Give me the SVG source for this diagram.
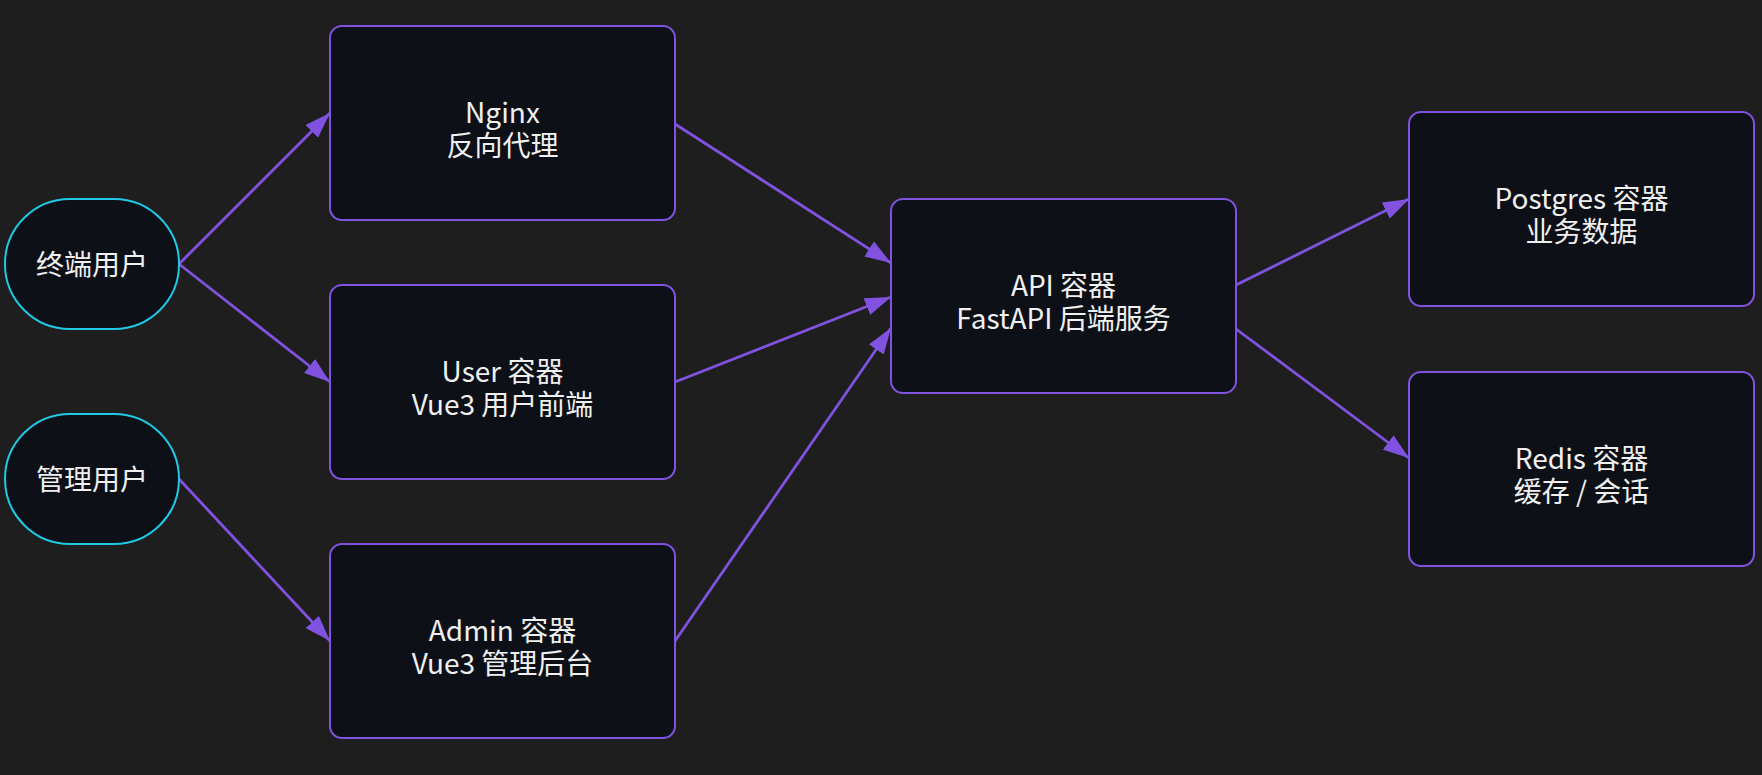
<svg xmlns="http://www.w3.org/2000/svg" width="1762" height="775" viewBox="0 0 1762 775">
<style>
  .box { fill: #0d1017; stroke: #8152e0; stroke-width: 2; }
  .actor { fill: #0d1017; stroke: #1fc8e3; stroke-width: 2; }
  .lbl { font-family: "Noto Sans CJK SC", "Noto Sans", sans-serif; font-size: 28px; fill: #f0f0f0; text-anchor: middle; }
  .edge { stroke: #8152e0; stroke-width: 2.8; fill: none; marker-end: url(#arrow); }
</style>
<defs>
  <marker id="arrow" markerUnits="userSpaceOnUse" markerWidth="26" markerHeight="18" refX="26" refY="9" orient="auto">
    <path d="M0,0 L26,9 L0,18 z" fill="#8152e0"/>
  </marker>
</defs>
<rect width="1762" height="775" fill="#1e1e1e"/>

<g id="edges">
  <line class="edge" x1="179" y1="264" x2="330" y2="113"/>
  <line class="edge" x1="179" y1="264" x2="330" y2="382"/>
  <line class="edge" x1="179" y1="479" x2="330" y2="641"/>
  <line class="edge" x1="675" y1="124" x2="891" y2="263"/>
  <line class="edge" x1="675" y1="382" x2="891" y2="297"/>
  <line class="edge" x1="675" y1="641" x2="891" y2="328"/>
  <line class="edge" x1="1236" y1="285" x2="1409" y2="199"/>
  <line class="edge" x1="1236" y1="329" x2="1409" y2="458"/>
</g>

<g id="endUser">
  <rect class="actor" x="5" y="199" width="174" height="130" rx="65" ry="65"/>
  <text class="lbl" x="92" y="275">终端用户</text>
</g>
<g id="adminUser">
  <rect class="actor" x="5" y="414" width="174" height="130" rx="65" ry="65"/>
  <text class="lbl" x="92" y="490">管理用户</text>
</g>

<g id="nginx">
  <rect class="box" x="330" y="26" width="345" height="194" rx="12"/>
  <text class="lbl" x="502.5" y="123"><tspan x="502.5">Nginx</tspan><tspan x="502.5" dy="33">反向代理</tspan></text>
</g>
<g id="user">
  <rect class="box" x="330" y="285" width="345" height="194" rx="12"/>
  <text class="lbl" x="502.5" y="382"><tspan x="502.5">User 容器</tspan><tspan x="502.5" dy="33">Vue3 用户前端</tspan></text>
</g>
<g id="admin">
  <rect class="box" x="330" y="544" width="345" height="194" rx="12"/>
  <text class="lbl" x="502.5" y="641"><tspan x="502.5">Admin 容器</tspan><tspan x="502.5" dy="33">Vue3 管理后台</tspan></text>
</g>
<g id="api">
  <rect class="box" x="891" y="199" width="345" height="194" rx="12"/>
  <text class="lbl" x="1063.5" y="296"><tspan x="1063.5">API 容器</tspan><tspan x="1063.5" dy="33">FastAPI 后端服务</tspan></text>
</g>
<g id="postgres">
  <rect class="box" x="1409" y="112" width="345" height="194" rx="12"/>
  <text class="lbl" x="1581.5" y="209"><tspan x="1581.5">Postgres 容器</tspan><tspan x="1581.5" dy="33">业务数据</tspan></text>
</g>
<g id="redis">
  <rect class="box" x="1409" y="372" width="345" height="194" rx="12"/>
  <text class="lbl" x="1581.5" y="469"><tspan x="1581.5">Redis 容器</tspan><tspan x="1581.5" dy="33">缓存 / 会话</tspan></text>
</g>
</svg>
